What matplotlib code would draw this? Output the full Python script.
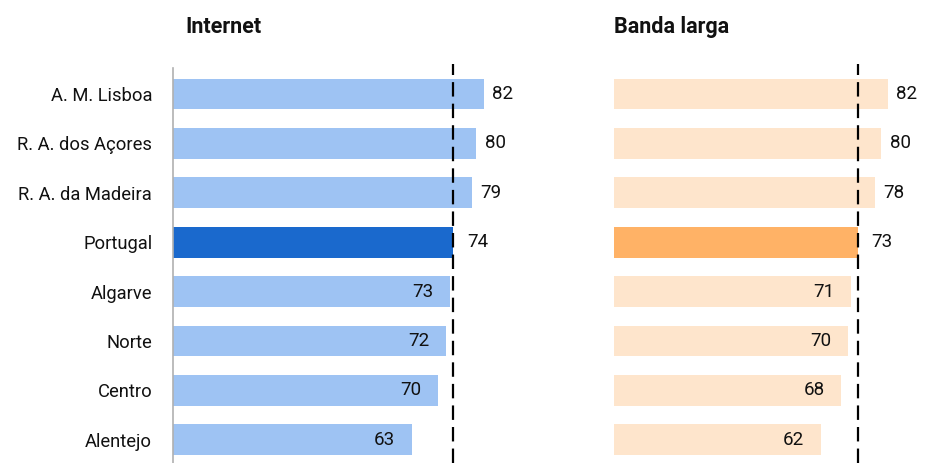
import matplotlib
matplotlib.use("Agg")
import matplotlib.pyplot as plt

regions = ["A. M. Lisboa", "R. A. dos Açores", "R. A. da Madeira", "Portugal",
           "Algarve", "Norte", "Centro", "Alentejo"]
internet = [82, 80, 79, 74, 73, 72, 70, 63]
banda_larga = [82, 80, 78, 73, 71, 70, 68, 62]
ref_label = "Portugal"

plt.rcParams["font.family"] = ["Roboto", "DejaVu Sans"]

W, H = 925, 463
fig = plt.figure(figsize=(W / 100, H / 100), dpi=100)

top_px, bottom_px = 64, 463
ax_h = (bottom_px - top_px) / H
ax_b = 1 - bottom_px / H

# left panel: 0 at x=173, 3.79 px per unit
xmax_l = 90
ax1 = fig.add_axes([173 / W, ax_b, xmax_l * 3.79 / W, ax_h])
# right panel: 0 at x=614, 3.34 px per unit
xmax_r = 90
ax2 = fig.add_axes([614 / W, ax_b, xmax_r * 3.34 / W, ax_h])

spacing = 49.4
ymin = -(94 - top_px) / spacing
ymax = ymin + (bottom_px - top_px) / spacing

NUM_FS = 13.5
LAB_FS = 13.2


def draw(ax, values, light, dark, xmax, show_labels):
    ref_idx = regions.index(ref_label)
    ref = values[ref_idx]
    y = list(range(len(regions)))
    colors = [dark if r == ref_label else light for r in regions]
    ax.barh(y, values, height=0.62, color=colors, zorder=2)
    ax.set_xlim(0, xmax)
    ax.set_ylim(ymax, ymin)
    ax.axvline(ref, color="black", lw=1.6, ls=(0, (6.5, 3.2)), zorder=3)
    for yi, v, r in zip(y, values, regions):
        if r == ref_label:
            ax.annotate(f"{v}", (v, yi), xytext=(10, 0), textcoords="offset points",
                        ha="left", va="center", fontsize=NUM_FS, color="#111111")
        elif v > ref:
            ax.annotate(f"{v}", (v, yi), xytext=(6, 0), textcoords="offset points",
                        ha="left", va="center", fontsize=NUM_FS, color="#111111")
        else:
            ax.annotate(f"{v}", (v, yi), xytext=(-12, 0), textcoords="offset points",
                        ha="right", va="center", fontsize=NUM_FS, color="#111111")
    for s in ["top", "right", "bottom"]:
        ax.spines[s].set_visible(False)
    ax.set_xticks([])
    ax.set_yticks(y)
    if show_labels:
        ax.spines["left"].set_color("#b0b0b0")
        ax.spines["left"].set_linewidth(1.2)
        ax.spines["left"].set_bounds(ymax, -0.52)
        ax.set_yticklabels(regions, fontsize=LAB_FS, color="#111111")
        ax.tick_params(axis="y", length=0, pad=15)
    else:
        ax.spines["left"].set_visible(False)
        ax.set_yticklabels([])
        ax.tick_params(axis="y", length=0)
    return ax


draw(ax1, internet, "#9ec3f3", "#1a69cd", xmax_l, True)
draw(ax2, banda_larga, "#fee5cc", "#ffb266", xmax_r, False)

fig.text(185 / W, 1 - 27 / H, "Internet", fontsize=15.5, fontweight="bold",
         ha="left", va="center", color="#111111")
fig.text(614 / W, 1 - 27 / H, "Banda larga", fontsize=15.5, fontweight="bold",
         ha="left", va="center", color="#111111")

fig.savefig("out.png", dpi=100)
